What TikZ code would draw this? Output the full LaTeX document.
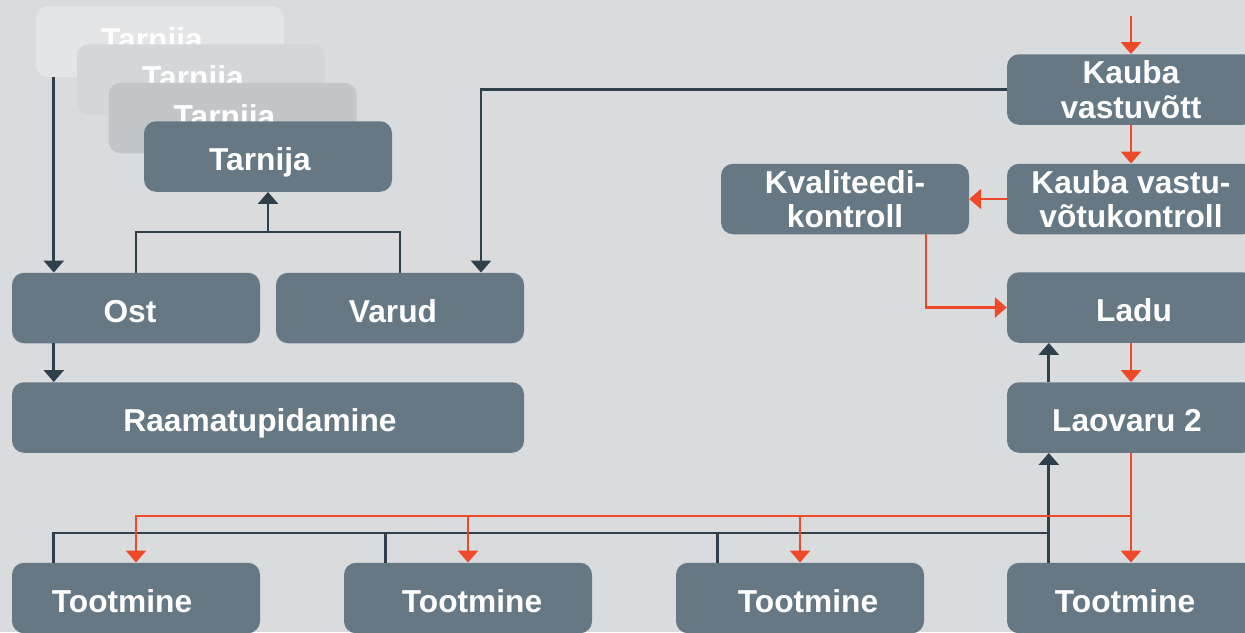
\documentclass[tikz,border=0pt]{standalone}
\usepackage{fontspec}
\setmainfont{Liberation Sans}
\usetikzlibrary{arrows.meta,calc}
\definecolor{bg}{HTML}{DADBDD}
\definecolor{boxc}{HTML}{657884}
\definecolor{gonec}{HTML}{E4E5E7}
\definecolor{gtwoc}{HTML}{D3D7DA}
\definecolor{gthreec}{HTML}{C3C6C9}
\definecolor{dk}{HTML}{2F404B}
\definecolor{rd}{HTML}{EE4A29}
\newcommand\mvtext[2]{\hspace*{#1}#2\hspace*{-#1}}
\tikzset{
  box/.style={fill=boxc, rounded corners=12pt, minimum width=248pt, minimum height=70.5pt,
    inner sep=0pt, text=white, font=\fontsize{31.7}{34.4}\selectfont\bfseries, align=center},
  oneline/.style={text height=28pt, text depth=0pt},
  ghost/.style={box, text height=18pt, text depth=0pt},
  blk/.style={draw=dk, line width=2.7pt},
  blka/.style={blk, -{Triangle[width=20pt,length=12pt]}},
  rln/.style={draw=rd, line width=2.7pt},
  rla/.style={rln, -{Triangle[width=20pt,length=12pt]}},
}
\begin{document}
\begin{tikzpicture}[x=1pt,y=-1pt]
\useasboundingbox (0,0) rectangle (1245,632);
\fill[bg] (0,0) rectangle (1245,632);
\clip (0,0) rectangle (1245,632);
% stacked suppliers
\node[ghost, fill=gonec] (g1) at (160,41.5) {\mvtext{-8pt}{Tarnija}};
\node[ghost, fill=gtwoc] (g2) at (201,79.5) {\mvtext{-8pt}{Tarnija}};
\node[ghost, fill=gthreec] (g3) at (232.5,118) {\mvtext{-8pt}{Tarnija}};
\node[box, oneline] (tarnija) at (268,156.5) {\mvtext{-8pt}{Tarnija}};
% left column
\node[box, oneline] (ost) at (136,308) {\mvtext{-6pt}{Ost}};
\node[box, oneline] (varud) at (400,308) {\mvtext{-7pt}{Varud}};
\node[box, oneline, minimum width=512pt] (raamat) at (268,417.5) {\mvtext{-8pt}{Raamatupidamine}};
% right column
\node[box] (kv) at (1131,89.5) {Kauba\\vastuvõtt};
\node[box] (kvk) at (1131,199) {Kauba vastu-\\võtukontroll};
\node[box] (kval) at (845,199) {Kvaliteedi-\\kontroll};
\node[box, oneline] (ladu) at (1131,307.5) {\mvtext{3pt}{Ladu}};
\node[box, oneline] (laovaru) at (1131,417.5) {\mvtext{-4pt}{Laovaru 2}};
% production
\node[box, oneline] (t1) at (136,598) {\mvtext{-14pt}{Tootmine}};
\node[box, oneline] (t2) at (468,598) {\mvtext{4pt}{Tootmine}};
\node[box, oneline] (t3) at (800,598) {\mvtext{8pt}{Tootmine}};
\node[box, oneline] (t4) at (1131,598) {\mvtext{-6pt}{Tootmine}};
% helper coordinates
\coordinate (ostin) at ([xshift=42pt]ost.north west);
\coordinate (varin) at ([xshift=81pt]varud.north);
\coordinate (tbus) at (268,232);
\coordinate (topin) at (1131,16);
\coordinate (kvalout) at ([xshift=81pt]kval.south);
\coordinate (ladx) at ([xshift=42pt]laovaru.north west);
\coordinate (t1x) at ([xshift=42pt]t1.north west);
\coordinate (t2x) at ([xshift=42pt]t2.north west);
\coordinate (t3x) at ([xshift=42pt]t3.north west);
\coordinate (t4x) at ([xshift=42pt]t4.north west);
\coordinate (bbus) at (0,533);
\coordinate (rbus) at (0,516);
% dark connectors
\draw[blka] (g1.south -| ostin) -- (ostin);
\draw[blka] (ostin |- ost.south) -- (ostin |- raamat.north);
\draw[blk] (ost.north) |- (tbus) -| (varud.north);
\draw[blka] (tbus) -- (tarnija.south);
\draw[blka] (kv.west) -| (varin);
\draw[blka] (ladx) -- (ladx |- ladu.south);
\draw[blk] (t1x) |- (t4x |- bbus);
\draw[blk] (t2x) -- (t2x |- bbus);
\draw[blk] (t3x) -- (t3x |- bbus);
\draw[blka] (t4x) -- (t4x |- laovaru.south);
% red connectors
\draw[rla] (topin) -- (kv.north);
\draw[rla] (kv.south) -- (kvk.north);
\draw[rla] (kvk.west) -- (kval.east);
\draw[rla] (kvalout) |- (ladu.west);
\draw[rla] (ladu.south) -- (laovaru.north);
\draw[rla] (laovaru.south) -- (t4.north);
\draw[rla] (laovaru.south |- rbus) -| (t1.north);
\draw[rla] (t2.north |- rbus) -- (t2.north);
\draw[rla] (t3.north |- rbus) -- (t3.north);
\end{tikzpicture}
\end{document}
